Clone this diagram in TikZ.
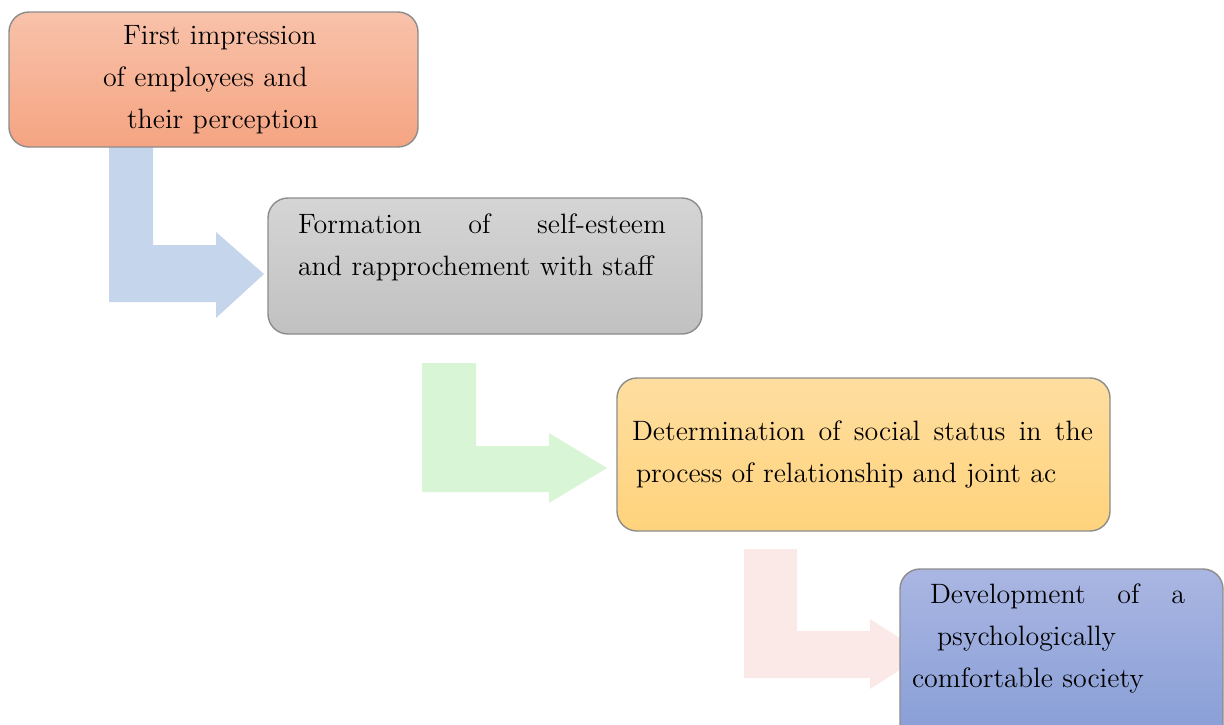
\documentclass[tikz,border=0pt]{standalone}
\definecolor{peachtop}{RGB}{248,194,170}
\definecolor{peachbot}{RGB}{245,164,130}
\definecolor{greytop}{RGB}{213,213,213}
\definecolor{greybot}{RGB}{193,193,193}
\definecolor{sandtop}{RGB}{254,222,160}
\definecolor{sandbot}{RGB}{255,211,124}
\definecolor{skytop}{RGB}{170,182,226}
\definecolor{skybot}{RGB}{134,157,214}
\definecolor{arrowblue}{RGB}{197,213,236}
\definecolor{arrowgreen}{RGB}{216,245,214}
\definecolor{arrowpink}{RGB}{250,233,230}
\usetikzlibrary{positioning, calc, backgrounds}

\begin{document}
\begin{tikzpicture}[x=0.5pt, y=-0.5pt,
  stage/.style={draw=black!45, line width=0.7pt, rounded corners=10pt, inner sep=0pt, outer sep=0pt,
    align=left, font=\fontsize{14pt}{21pt}\selectfont}]
  \useasboundingbox (0,0) rectangle (1224,724);
  \clip (0,0) rectangle (1224,724);

  % the four stages
  \node[stage, top color=peachtop, bottom color=peachbot, minimum width=204.5pt, minimum height=67.5pt, text width=110.5pt]
    (first) at (213.5,79.5) {
    \hspace*{10pt}First impression\\
    of employees and\\
    \hspace*{12pt}their perception
  };
  \node[stage, top color=greytop, bottom color=greybot, minimum width=217pt, minimum height=68pt, text width=187pt]
    (second) at (485,266) {
    \hbox to 184pt{Formation\hfill of\hfill self-esteem}\\
    and rapprochement with staff\\
    \mbox{}
  };
  \node[stage, top color=sandtop, bottom color=sandbot, minimum width=246.5pt, minimum height=76.5pt, text width=231.5pt]
    (third) at (863.5,454.5) {
    \hbox to 230.5pt{Determination\hfill of\hfill social\hfill status\hfill in\hfill the}\\
    \hspace*{2pt}process of relationship and joint ac
  };
  \node[stage, top color=skytop, bottom color=skybot, minimum width=161.5pt, minimum height=88pt, text width=149.5pt]
    (fourth) at (1061.5,657) {
    \hspace*{9pt}\hbox to 127.5pt{Development\hfill of\hfill a}\\
    \hspace*{12.5pt}psychologically\\
    comfortable society\\
    \mbox{}
  };

  % bent arrows between the stages
  \begin{scope}[on background layer]
    \fill[arrowblue] (109,0 |- first.south) -- (153,0 |- first.south) -- (153,245) -- (216,245) -- (216,232)
      -- ($(second.west)+(-4,8)$) -- (216,318) -- (216,302) -- (109,302) -- cycle;
    \fill[arrowgreen] (422,363) -- (476,363) -- (476,446) -- (549,446) -- (549,433)
      -- ($(third.west)+(-10,13.5)$) -- (549,503) -- (549,492) -- (422,492) -- cycle;
    \fill[arrowpink] (744,549) -- (797,549) -- (797,631) -- (870,631) -- (870,619)
      -- ($(fourth.west)+(25,-3)$) -- (870,689) -- (870,678) -- (744,678) -- cycle;
  \end{scope}
\end{tikzpicture}
\end{document}
